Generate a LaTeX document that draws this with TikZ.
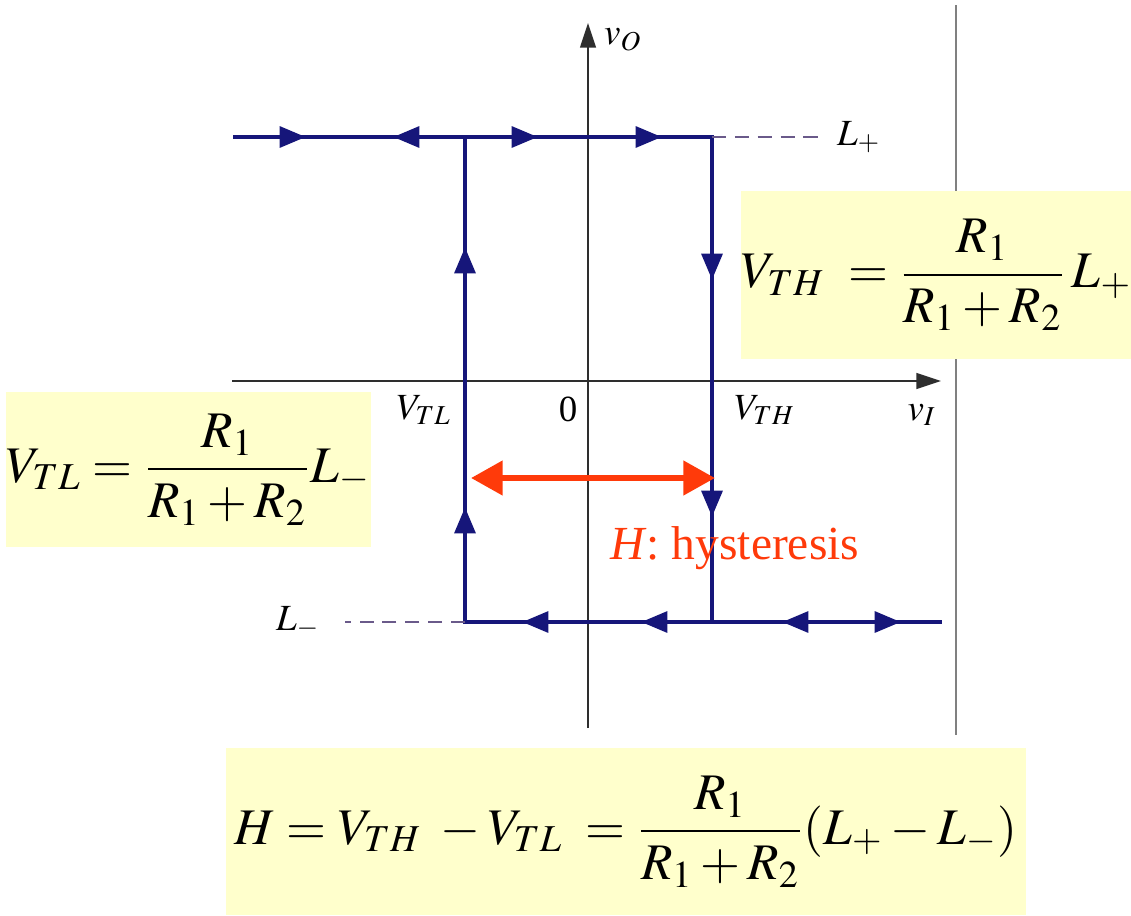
\documentclass[tikz,border=0pt]{standalone}
\usepackage{mathptmx}
\usepackage{fontspec}
\setmainfont{Liberation Serif}
\usetikzlibrary{arrows.meta}
\definecolor{loopcol}{HTML}{16167A}
\definecolor{hystcol}{HTML}{FF3A0A}
\definecolor{boxcol}{HTML}{FFFFCC}
\definecolor{axcol}{HTML}{2E2E2E}
\definecolor{levelcol}{HTML}{6A5A8A}

\begin{document}
\begin{tikzpicture}[x=0.01cm,y=-0.01cm,
  loop/.style={loopcol,line width=1.4pt},
  dir/.style={loopcol,line width=1.4pt,-{Triangle[length=7.5pt,width=5.8pt]}},
  axis/.style={axcol,line width=0.45pt,-{Triangle[length=7pt,width=4.5pt]}},
  level/.style={levelcol,line width=0.6pt,dash pattern=on 4pt off 2.5pt},
  lbl/.style={font=\fontsize{10.5}{12}\selectfont,inner sep=1pt},
  fbox/.style={fill=boxcol,inner sep=0pt,font=\fontsize{14.6}{17}\selectfont},
  hyst/.style={hystcol,line width=1.8pt,{Triangle[length=9pt,width=9.5pt]}-{Triangle[length=9pt,width=9.5pt]}}
]
\useasboundingbox (0,0) rectangle (1131,915);

% axes and frame line
\draw[gray,line width=0.6pt] (956,5) -- (956,735);
\draw[axis] (588,728) -- (588,23);
\draw[axis] (232,381) -- (941,381);
\node[lbl,anchor=west] (vo) at (600,40) {$v_O$};
\node[lbl] (vi) at (922,415) {$v_I$};
\node[lbl] (vtl) at (424,410) {$V_{TL}$};
\node[lbl] (zero) at (568,409) {0};
\node[lbl] (vth) at (765,410) {$V_{TH}$};

% transfer loop
\coordinate (tstart) at (233,137);
\coordinate (tl) at (465,137);
\coordinate (tr) at (712,137);
\coordinate (bl) at (465,622);
\coordinate (br) at (712,622);
\coordinate (bend) at (942,622);
\draw[loop] (tstart) -- (tr) -- (br);
\draw[loop] (tl) -- (bl) -- (bend);
\draw[level] (tr) -- (825,137);
\draw[level] (bl) -- (345,622);
\node[lbl,anchor=west] (lp) at (833,137) {$L_+$};
\node[lbl] (lm) at (298,622) {$L_-$};

% direction marks
\foreach \x in {306,538,662} \draw[dir] (\x-3,137) -- (\x,137);
\draw[dir] (396,137) -- (393,137);
\foreach \x in {522,641,782} \draw[dir] (\x+3,622) -- (\x,622);
\draw[dir] (898,622) -- (901,622);
\foreach \y in {247,507} \draw[dir] (465,\y+3) -- (465,\y);
\foreach \y in {280,517} \draw[dir] (712,\y-3) -- (712,\y);

% hysteresis width
\coordinate (hl) at (471,478);
\coordinate (hr) at (715,478);
\draw[hyst] (hl) -- (hr);
\node[font=\fontsize{13.5}{16}\selectfont,text=hystcol,anchor=west] (hname) at (598,548) {\textit{H}: hysteresis};

% formula boxes
\node[fbox,minimum width=3.89cm,minimum height=1.68cm] (thbox) at (936.5,275)
  {$\displaystyle V_{TH}\;=\frac{R_1}{R_1+R_2}\,L_+$};
\node[fbox,minimum width=3.59cm,minimum height=1.55cm] (tlbox) at (188.5,469.5)
  {$\displaystyle V_{TL}=\frac{R_1}{R_1+R_2}L_-$};
\node[fbox,minimum width=8.00cm,minimum height=1.67cm] (hbox) at (626,831.5)
  {$\displaystyle H=V_{TH}\;-V_{TL}\;=\frac{R_1}{R_1+R_2}(L_+-L_-)$};
\end{tikzpicture}
\end{document}
